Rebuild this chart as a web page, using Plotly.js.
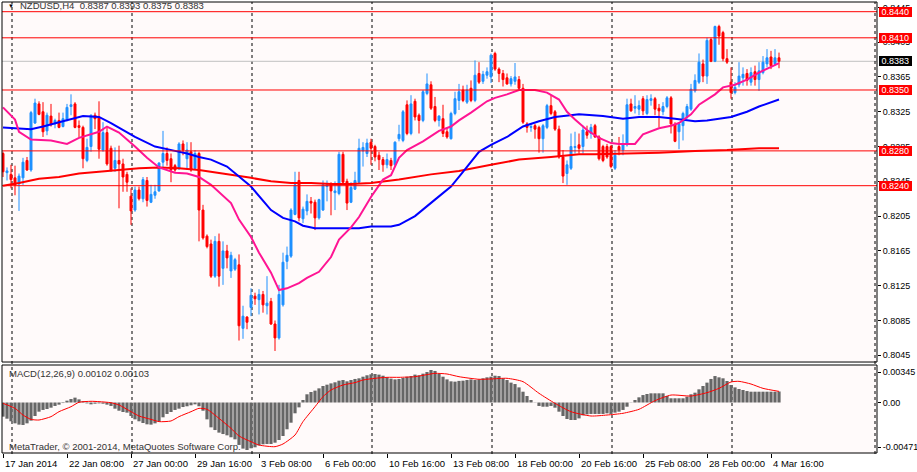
<!DOCTYPE html>
<html>
<head>
<meta charset="utf-8">
<script src="https://cdn.plot.ly/plotly-3.0.1.min.js"></script>
<style>
html,body{margin:0;padding:0;background:#ffffff;overflow:hidden;}
#chart{width:917px;height:472px;}
</style>
</head>
<body>
<div id="chart"></div>
<script>
// ---------- DATA ----------
const symbolTitle = "NZDUSD,H4  0.8387 0.8393 0.8375 0.8383";
const macdTitle = "MACD(12,26,9) 0.00102 0.00103";
const copyrightText = "MetaTrader, \u00a9 2001-2014, MetaQuotes Software Corp.";

const timeLabels = ["17 Jan 2014","22 Jan 08:00","27 Jan 00:00","29 Jan 16:00","3 Feb 08:00","6 Feb 00:00","10 Feb 16:00","13 Feb 08:00","18 Feb 00:00","20 Feb 16:00","25 Feb 08:00","28 Feb 00:00","4 Mar 16:00"];
const timeLabelBars = [0,16,32,48,64,80,96,112,128,144,160,176,192];

const openP = [.8277,.8255,.8253,.8249,.8242,.8249,.8269,.8258,.8312,.8334,
.8325,.8303,.8320,.8311,.8315,.8308,.8315,.8331,.8334,.8309,
.8307,.8269,.8285,.8321,.8319,.8281,.8301,.8283,.8260,.8269,
.8265,.8253,.8228,.8212,.8235,.8225,.8246,.8221,.8229,.8234,
.8267,.8277,.8271,.8263,.8260,.8288,.8271,.8279,.8260,.8277,
.8212,.8182,.8173,.8136,.8176,.8145,.8165,.8142,.8144,.8149,
.8076,.8089,.8100,.8113,.8109,.8115,.8102,.8107,.8081,.8065,
.8103,.8153,.8159,.8207,.8246,.8202,.8211,.8222,.8221,.8203,
.8212,.8239,.8241,.8232,.8231,.8276,.8245,.8221,.8236,.8244,
.8280,.8277,.8290,.8285,.8275,.8270,.8264,.8269,.8264,.8294,
.8292,.8333,.8300,.8337,.8321,.8315,.8346,.8356,.8331,.8315,
.8317,.8302,.8294,.8323,.8338,.8350,.8336,.8352,.8338,.8369,
.8360,.8367,.8365,.8392,.8374,.8369,.8364,.8357,.8360,.8362,
.8352,.8311,.8307,.8309,.8307,.8294,.8307,.8332,.8325,.8305,
.8273,.8254,.8260,.8284,.8287,.8285,.8302,.8300,.8309,.8296,
.8285,.8285,.8285,.8260,.8285,.8281,.8287,.8334,.8329,.8328,
.8340,.8323,.8338,.8340,.8329,.8325,.8331,.8341,.8310,.8302,
.8309,.8319,.8328,.8349,.8359,.8380,.8366,.8408,.8383,.8423,
.8416,.8386,.8359,.8347,.8356,.8364,.8369,.8359,.8371,.8362,
.8370,.8380,.8388,.8380,.8387];

const highP = [.8279,.8261,.8264,.8263,.8254,.8272,.8273,.8326,.8340,.8337,
.8336,.8324,.8334,.8317,.8324,.8324,.8334,.8345,.8336,.8315,
.8309,.8294,.8322,.8324,.8337,.8313,.8307,.8286,.8284,.8286,
.8271,.8256,.8237,.8239,.8239,.8250,.8250,.8241,.8241,.8267,
.8303,.8284,.8277,.8265,.8290,.8292,.8290,.8290,.8281,.8279,
.8218,.8184,.8178,.8182,.8185,.8176,.8172,.8164,.8157,.8161,
.8102,.8090,.8122,.8117,.8121,.8119,.8136,.8111,.8085,.8126,
.8163,.8170,.8214,.8256,.8256,.8216,.8230,.8227,.8224,.8225,
.8246,.8246,.8244,.8245,.8279,.8279,.8248,.8244,.8256,.8294,
.8290,.8294,.8294,.8287,.8279,.8273,.8277,.8272,.8291,.8310,
.8327,.8338,.8344,.8340,.8323,.8350,.8369,.8360,.8342,.8321,
.8333,.8306,.8325,.8348,.8357,.8355,.8356,.8361,.8384,.8382,
.8372,.8376,.8392,.8394,.8376,.8373,.8369,.8366,.8381,.8366,
.8357,.8313,.8311,.8311,.8309,.8311,.8334,.8344,.8327,.8309,
.8281,.8269,.8300,.8302,.8300,.8309,.8309,.8311,.8311,.8298,
.8287,.8288,.8287,.8281,.8296,.8299,.8340,.8340,.8344,.8338,
.8343,.8344,.8345,.8342,.8334,.8336,.8343,.8343,.8313,.8313,
.8325,.8334,.8357,.8368,.8392,.8385,.8410,.8410,.8424,.8425,
.8418,.8397,.8376,.8359,.8382,.8376,.8374,.8376,.8378,.8382,
.8389,.8397,.8395,.8397,.8393];

const lowP = [.8250,.8246,.8237,.8229,.8211,.8241,.8257,.8256,.8311,.8321,
.8296,.8298,.8308,.8306,.8306,.8307,.8314,.8321,.8306,.8296,
.8260,.8267,.8279,.8305,.8271,.8279,.8263,.8256,.8256,.8214,
.8233,.8233,.8195,.8210,.8223,.8221,.8216,.8220,.8225,.8233,
.8261,.8263,.8244,.8256,.8258,.8275,.8258,.8256,.8259,.8176,
.8178,.8168,.8134,.8134,.8124,.8126,.8145,.8134,.8142,.8062,
.8064,.8075,.8090,.8103,.8092,.8094,.8092,.8080,.8050,.8063,
.8101,.8144,.8157,.8206,.8199,.8197,.8206,.8208,.8189,.8201,
.8211,.8222,.8206,.8212,.8229,.8241,.8212,.8220,.8235,.8243,
.8262,.8273,.8264,.8268,.8258,.8256,.8260,.8258,.8262,.8291,
.8290,.8298,.8298,.8315,.8300,.8313,.8344,.8327,.8313,.8308,
.8296,.8294,.8293,.8321,.8327,.8336,.8334,.8336,.8336,.8357,
.8357,.8363,.8358,.8372,.8359,.8354,.8356,.8354,.8356,.8350,
.8311,.8301,.8302,.8294,.8278,.8278,.8305,.8321,.8303,.8271,
.8243,.8241,.8258,.8277,.8277,.8277,.8294,.8294,.8295,.8269,
.8267,.8271,.8260,.8258,.8275,.8275,.8285,.8325,.8323,.8321,
.8321,.8321,.8332,.8321,.8307,.8321,.8329,.8300,.8290,.8282,
.8292,.8317,.8326,.8347,.8357,.8359,.8357,.8382,.8382,.8402,
.8383,.8380,.8340,.8345,.8353,.8355,.8355,.8355,.8355,.8349,
.8368,.8376,.8374,.8378,.8375];

const closeP = [.8256,.8257,.8247,.8241,.8251,.8267,.8258,.8324,.8335,.8322,
.8302,.8321,.8310,.8315,.8307,.8317,.8330,.8333,.8307,.8307,
.8271,.8284,.8321,.8317,.8282,.8301,.8265,.8258,.8269,.8265,
.8250,.8244,.8211,.8235,.8225,.8247,.8223,.8230,.8233,.8266,
.8277,.8269,.8258,.8258,.8288,.8281,.8281,.8258,.8277,.8212,
.8180,.8170,.8136,.8176,.8136,.8165,.8157,.8160,.8155,.8079,
.8090,.8083,.8114,.8110,.8115,.8103,.8105,.8081,.8065,.8115,
.8152,.8160,.8212,.8241,.8203,.8213,.8222,.8220,.8203,.8224,
.8241,.8241,.8234,.8234,.8276,.8244,.8220,.8238,.8246,.8283,
.8284,.8289,.8283,.8273,.8270,.8264,.8270,.8263,.8290,.8299,
.8325,.8300,.8334,.8319,.8315,.8348,.8357,.8329,.8315,.8320,
.8300,.8296,.8323,.8340,.8348,.8338,.8350,.8338,.8367,.8359,
.8368,.8371,.8390,.8374,.8369,.8362,.8357,.8363,.8365,.8352,
.8313,.8307,.8308,.8305,.8294,.8309,.8332,.8323,.8305,.8273,
.8251,.8264,.8285,.8285,.8283,.8304,.8298,.8307,.8296,.8271,
.8269,.8273,.8262,.8275,.8281,.8288,.8333,.8326,.8331,.8332,
.8326,.8339,.8340,.8328,.8326,.8331,.8341,.8311,.8291,.8311,
.8323,.8331,.8351,.8361,.8382,.8366,.8407,.8383,.8423,.8412,
.8386,.8382,.8347,.8353,.8366,.8368,.8361,.8370,.8362,.8372,
.8382,.8387,.8378,.8387,.8383];

// moving averages, read at sampled bars
const maBlueBars = [0,7,10,16,20,24,27,33,38,43,46,49,52,56,59,62,67,70,73,75,78,84,89,92,97,99,103,108,112,115,119,122,126,130,134,138,144,150,155,159,164,168,173,176,180,182,186,189,194];
const maBlueVals = [.8307,.8305,.8308,.8315,.8320,.8319,.8312,.8296,.8285,.8280,.8277,.8273,.8270,.8262,.8250,.8239,.8212,.8203,.8199,.8194,.8191,.8191,.8191,.8193,.8193,.8195,.8205,.8224,.8239,.8256,.8279,.8287,.8296,.8308,.8314,.8319,.8322,.8320,.8317,.8319,.8319,.8317,.8314,.8315,.8318,.8319,.8325,.8331,.8339];

const maPinkBars = [0,3,4,7,12,16,19,24,26,29,33,36,39,43,46,49,52,57,59,62,64,67,69,71,74,76,79,82,84,87,89,92,95,97,99,101,105,109,112,114,117,119,121,123,126,129,133,136,139,141,143,146,149,152,154,158,160,164,167,169,172,174,178,180,183,186,189,194];
const maPinkVals = [.8330,.8316,.8302,.8293,.8292,.8288,.8295,.8302,.8308,.8301,.8285,.8272,.8261,.8255,.8254,.8250,.8241,.8220,.8201,.8181,.8163,.8140,.8120,.8122,.8128,.8134,.8141,.8158,.8178,.8192,.8204,.8227,.8247,.8252,.8272,.8281,.8291,.8303,.8308,.8315,.8324,.8331,.8337,.8341,.8345,.8350,.8350,.8347,.8339,.8325,.8316,.8304,.8295,.8289,.8288,.8288,.8299,.8306,.8309,.8312,.8322,.8333,.8345,.8353,.8356,.8362,.8370,.8381];

const maRedBars = [0,4,9,14,19,24,29,34,39,44,49,52,57,62,67,72,77,82,87,92,97,99,107,114,122,129,137,144,148,156,164,173,181,189,194];
const maRedVals = [.8240,.8243,.8248,.8250,.8254,.8256,.8258,.8260,.8261,.8260,.8258,.8256,.8253,.8249,.8245,.8243,.8243,.8242,.8242,.8243,.8246,.8247,.8253,.8257,.8264,.8270,.8273,.8276,.8276,.8277,.8278,.8280,.8281,.8283,.8283];

// MACD histogram (one per bar) and signal line (sampled bars)
const macdHist = [-0.00131,-0.00150,-0.00174,-0.00193,-0.00205,-0.00208,-0.00193,-0.00168,-0.00125,-0.00085,
-0.00069,-0.00060,-0.00048,-0.00032,-0.00020,-0.00005,0.00017,0.00032,0.00045,0.00029,
0.00011,-0.00008,-0.00017,-0.00011,-0.00008,-0.00011,-0.00020,-0.00032,-0.00057,-0.00076,
-0.00088,-0.00094,-0.00125,-0.00156,-0.00174,-0.00190,-0.00202,-0.00205,-0.00193,-0.00174,
-0.00137,-0.00106,-0.00088,-0.00069,-0.00057,-0.00042,-0.00035,-0.00026,-0.00017,-0.00035,
-0.00076,-0.00156,-0.00230,-0.00255,-0.00279,-0.00292,-0.00304,-0.00322,-0.00341,-0.00393,
-0.00427,-0.00440,-0.00424,-0.00415,-0.00397,-0.00387,-0.00384,-0.00384,-0.00372,-0.00347,
-0.00310,-0.00248,-0.00187,-0.00100,-0.00045,0.00023,0.00076,0.00097,0.00110,0.00131,
0.00153,0.00165,0.00177,0.00187,0.00202,0.00208,0.00196,0.00208,0.00218,0.00224,
0.00239,0.00252,0.00261,0.00264,0.00258,0.00248,0.00233,0.00221,0.00214,0.00218,
0.00227,0.00239,0.00245,0.00258,0.00252,0.00267,0.00282,0.00301,0.00292,0.00264,
0.00239,0.00214,0.00196,0.00193,0.00200,0.00202,0.00208,0.00214,0.00208,0.00214,
0.00224,0.00233,0.00239,0.00248,0.00245,0.00224,0.00208,0.00184,0.00171,0.00140,
0.00100,0.00060,0.00023,-0.00002,-0.00032,-0.00039,-0.00039,-0.00032,-0.00048,-0.00085,
-0.00125,-0.00153,-0.00162,-0.00162,-0.00147,-0.00119,-0.00110,-0.00106,-0.00106,-0.00106,
-0.00106,-0.00100,-0.00106,-0.00094,-0.00085,-0.00069,-0.00039,-0.00002,0.00023,0.00048,
0.00069,0.00079,0.00085,0.00085,0.00085,0.00085,0.00060,0.00039,0.00039,0.00039,
0.00039,0.00054,0.00076,0.00091,0.00122,0.00153,0.00184,0.00218,0.00245,0.00233,
0.00224,0.00199,0.00162,0.00140,0.00125,0.00116,0.00106,0.00100,0.00100,0.00100,
0.00100,0.00100,0.00100,0.00100,0.00102];

const signalBars = [0,3,5,7,9,12,14,17,19,22,24,27,29,32,34,37,39,42,44,47,49,51,54,57,59,62,64,68,70,73,75,78,80,82,85,88,90,93,96,99,103,106,108,111,114,119,122,126,130,134,138,142,147,151,155,159,163,167,172,176,179,182,184,187,190,194];
const signalVals = [-0.00008,-0.00054,-0.00116,-0.00156,-0.00162,-0.00131,-0.00085,-0.00039,0.00002,0.00011,0.00008,-0.00002,-0.00023,-0.00085,-0.00125,-0.00156,-0.00177,-0.00171,-0.00131,-0.00085,-0.00054,-0.00063,-0.00147,-0.00239,-0.00310,-0.00363,-0.00394,-0.00409,-0.00384,-0.00301,-0.00177,-0.00039,0.00054,0.00116,0.00162,0.00184,0.00208,0.00224,0.00233,0.00233,0.00239,0.00258,0.00270,0.00264,0.00239,0.00215,0.00218,0.00224,0.00193,0.00085,-0.00008,-0.00085,-0.00125,-0.00116,-0.00100,-0.00063,0.00017,0.00069,0.00060,0.00091,0.00131,0.00190,0.00196,0.00171,0.00131,0.00103];

// horizontal levels
const redLevels = [0.8440, 0.8410, 0.8350, 0.8280, 0.8240];
const bidLevel = 0.8383;
const priceTicks = [0.8045,0.8085,0.8125,0.8165,0.8205,0.8245,0.8285,0.8325,0.8365,0.8405,0.8445];
const macdTickText = ["0.00345","0.00","-0.00471"];
const gridBars = [2.25,32.25,62.25,92.25,122.25,152.25,182.25];

// ---------- CHART ----------
const FONT = "Liberation Sans, Arial, sans-serif";
const bars = openP.map((_, i) => i);

const traces = [
  {
    type: 'candlestick', x: bars, open: openP, high: highP, low: lowP, close: closeP,
    xaxis: 'x', yaxis: 'y', hoverinfo: 'skip', whiskerwidth: 0,
    increasing: {line: {color: '#1E90FF', width: 1}, fillcolor: '#1E90FF'},
    decreasing: {line: {color: '#FF0000', width: 1}, fillcolor: '#FF0000'}
  },
  {type: 'scatter', mode: 'lines', x: maRedBars, y: maRedVals, xaxis: 'x', yaxis: 'y',
   line: {color: '#FF0000', width: 2}, hoverinfo: 'skip'},
  {type: 'scatter', mode: 'lines', x: maBlueBars, y: maBlueVals, xaxis: 'x', yaxis: 'y',
   line: {color: '#0000FF', width: 2}, hoverinfo: 'skip'},
  {type: 'scatter', mode: 'lines', x: maPinkBars, y: maPinkVals, xaxis: 'x', yaxis: 'y',
   line: {color: '#FF1493', width: 2}, hoverinfo: 'skip'},
  {type: 'bar', x: bars, y: macdHist, xaxis: 'x', yaxis: 'y2',
   marker: {color: '#666666', line: {width: 0}}, hoverinfo: 'skip'},
  {type: 'scatter', mode: 'lines', x: signalBars, y: signalVals, xaxis: 'x', yaxis: 'y2',
   line: {color: '#FF0000', width: 1, shape: 'spline', smoothing: 0.6}, hoverinfo: 'skip'}
];

const mainDomain = [0.2035, 1];
const macdDomain = [0.0022, 0.1969];

const shapes = [];
gridBars.forEach(b => shapes.push({type: 'line', xref: 'x', yref: 'paper', x0: b, x1: b, y0: 0, y1: 1,
  line: {color: '#000000', width: 1, dash: '3px,3px'}, layer: 'below'}));
shapes.push({type: 'line', xref: 'x', yref: 'paper', x0: 218, x1: 218, y0: 0, y1: 1,
  line: {color: '#000000', width: 1, dash: '3px,3px'}, layer: 'above'});
redLevels.forEach(v => shapes.push({type: 'line', xref: 'paper', yref: 'y', x0: 0, x1: 1, y0: v, y1: v,
  line: {color: '#FF0000', width: 1}, layer: 'above'}));
shapes.push({type: 'line', xref: 'paper', yref: 'y', x0: 0, x1: 1, y0: bidLevel, y1: bidLevel,
  line: {color: '#C0C0C0', width: 1}, layer: 'below'});
shapes.push({type: 'rect', xref: 'paper', yref: 'paper', x0: 0, x1: 1, y0: mainDomain[0], y1: mainDomain[1],
  line: {color: '#000000', width: 1}, fillcolor: 'rgba(0,0,0,0)', layer: 'above'});
shapes.push({type: 'rect', xref: 'paper', yref: 'paper', x0: 0, x1: 1, y0: macdDomain[0], y1: macdDomain[1],
  line: {color: '#000000', width: 1}, fillcolor: 'rgba(0,0,0,0)', layer: 'above'});

const annotations = [];
annotations.push({xref: 'paper', yref: 'paper', x: 0.004, y: 0.992, xanchor: 'left', yanchor: 'middle',
  text: '\u25BC', showarrow: false, font: {family: FONT, size: 6, color: '#000000'}});
annotations.push({xref: 'paper', yref: 'paper', x: 0.018, y: 0.9915, xanchor: 'left', yanchor: 'middle',
  text: symbolTitle, showarrow: false, font: {family: FONT, size: 9.5, color: '#333333'}});
annotations.push({xref: 'paper', yref: 'paper', x: 0.006, y: 0.179, xanchor: 'left', yanchor: 'middle',
  text: macdTitle, showarrow: false, font: {family: FONT, size: 9.5, color: '#333333'}});
annotations.push({xref: 'paper', yref: 'paper', x: 0.006, y: 0.016, xanchor: 'left', yanchor: 'middle',
  text: copyrightText, showarrow: false, font: {family: FONT, size: 9.5, color: '#333333'}});
timeLabels.forEach((t, k) => annotations.push({xref: 'x', yref: 'paper', x: timeLabelBars[k], y: 0,
  xanchor: 'left', yanchor: 'top', yshift: -2, text: t, showarrow: false,
  font: {family: FONT, size: 9.5, color: '#000000'}}));
redLevels.forEach(v => annotations.push({xref: 'paper', yref: 'y', x: 1, y: v, xanchor: 'left', yanchor: 'middle',
  xshift: 2, text: ' ' + v.toFixed(4) + ' ', showarrow: false, bgcolor: '#FF0000', borderpad: 0, borderwidth: 0,
  font: {family: FONT, size: 9, color: '#FFFFFF'}}));
annotations.push({xref: 'paper', yref: 'y', x: 1, y: bidLevel, xanchor: 'left', yanchor: 'middle',
  xshift: 2, text: ' ' + bidLevel.toFixed(4) + ' ', showarrow: false, bgcolor: '#000000', borderpad: 0, borderwidth: 0,
  font: {family: FONT, size: 9, color: '#FFFFFF'}});

const layout = {
  width: 917, height: 472,
  margin: {l: 2, r: 40, t: 2, b: 18, pad: 0},
  paper_bgcolor: '#FFFFFF', plot_bgcolor: '#FFFAFA',
  showlegend: false, bargap: 0.2, boxgap: 0.3,
  xaxis: {range: [-0.25, 218.5], anchor: 'y2', showgrid: false, zeroline: false,
    tickmode: 'array', tickvals: timeLabelBars, ticks: 'outside', ticklen: 4, tickcolor: '#000000',
    showticklabels: false, rangeslider: {visible: false}, fixedrange: true, showline: false},
  yaxis: {domain: mainDomain, range: [0.803731, 0.845115], side: 'right', anchor: 'x',
    tickmode: 'array', tickvals: priceTicks, ticktext: priceTicks.map(v => v.toFixed(4)),
    ticks: 'outside', ticklen: 3, tickcolor: '#000000',
    tickfont: {family: FONT, size: 9, color: '#000000'}, showgrid: false, zeroline: false, fixedrange: true},
  yaxis2: {domain: macdDomain, range: [-0.004676, 0.003472], side: 'right', anchor: 'x',
    tickmode: 'array', tickvals: [0.002824, 0, -0.00412], ticktext: macdTickText,
    ticks: 'outside', ticklen: 3, tickcolor: '#000000',
    tickfont: {family: FONT, size: 9, color: '#000000'}, showgrid: false, zeroline: false, fixedrange: true},
  shapes: shapes,
  annotations: annotations
};

Plotly.newPlot('chart', traces, layout, {staticPlot: true, displayModeBar: false});
</script>
</body>
</html>
